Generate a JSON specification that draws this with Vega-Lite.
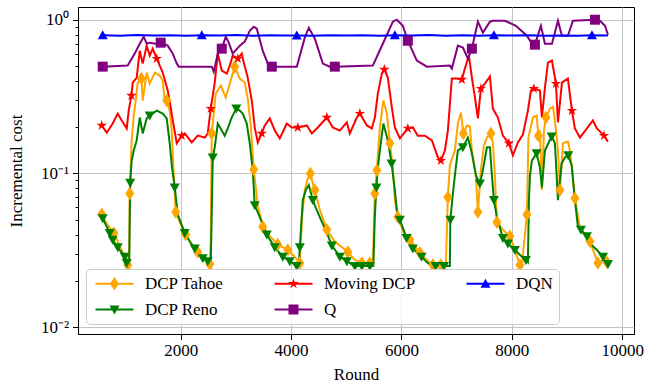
{
"$schema":"https://vega.github.io/schema/vega-lite/v6.json",
"width":556,"height":327,
"autosize":{"type":"none"},
"padding":{"left":78,"top":7,"right":26,"bottom":51},
"background":"white",
"config":{"view":{"stroke":"black","strokeWidth":1},"font":"Liberation Serif"},
"data":{"values":[
{"s":"DCP Tahoe","x":568,"y":0.0542,"m":1},{"s":"DCP Tahoe","x":676,"y":0.046},{"s":"DCP Tahoe","x":785,"y":0.041,"m":1},{"s":"DCP Tahoe","x":858,"y":0.036},{"s":"DCP Tahoe","x":930,"y":0.0317},{"s":"DCP Tahoe","x":1003,"y":0.0282},{"s":"DCP Tahoe","x":1039,"y":0.0253,"m":1},{"s":"DCP Tahoe","x":1066,"y":0.0317},{"s":"DCP Tahoe","x":1075,"y":0.074,"m":1},{"s":"DCP Tahoe","x":1111,"y":0.164},{"s":"DCP Tahoe","x":1148,"y":0.238},{"s":"DCP Tahoe","x":1184,"y":0.298},{"s":"DCP Tahoe","x":1220,"y":0.39},{"s":"DCP Tahoe","x":1287,"y":0.414,"m":1},{"s":"DCP Tahoe","x":1311,"y":0.298},{"s":"DCP Tahoe","x":1383,"y":0.453},{"s":"DCP Tahoe","x":1438,"y":0.384},{"s":"DCP Tahoe","x":1529,"y":0.453},{"s":"DCP Tahoe","x":1619,"y":0.433},{"s":"DCP Tahoe","x":1674,"y":0.402},{"s":"DCP Tahoe","x":1710,"y":0.298},{"s":"DCP Tahoe","x":1746,"y":0.298,"m":1},{"s":"DCP Tahoe","x":1800,"y":0.256},{"s":"DCP Tahoe","x":1837,"y":0.19},{"s":"DCP Tahoe","x":1873,"y":0.097},{"s":"DCP Tahoe","x":1909,"y":0.056,"m":1},{"s":"DCP Tahoe","x":1982,"y":0.048},{"s":"DCP Tahoe","x":2090,"y":0.04,"m":1},{"s":"DCP Tahoe","x":2199,"y":0.0345},{"s":"DCP Tahoe","x":2308,"y":0.0308,"m":1},{"s":"DCP Tahoe","x":2417,"y":0.0282},{"s":"DCP Tahoe","x":2526,"y":0.0257,"m":1},{"s":"DCP Tahoe","x":2544,"y":0.037},{"s":"DCP Tahoe","x":2562,"y":0.182,"m":1},{"s":"DCP Tahoe","x":2634,"y":0.331},{"s":"DCP Tahoe","x":2725,"y":0.373},{"s":"DCP Tahoe","x":2816,"y":0.312},{"s":"DCP Tahoe","x":2906,"y":0.402},{"s":"DCP Tahoe","x":2979,"y":0.495,"m":1},{"s":"DCP Tahoe","x":3070,"y":0.414},{"s":"DCP Tahoe","x":3160,"y":0.39},{"s":"DCP Tahoe","x":3214,"y":0.307},{"s":"DCP Tahoe","x":3269,"y":0.205},{"s":"DCP Tahoe","x":3323,"y":0.106,"m":1},{"s":"DCP Tahoe","x":3396,"y":0.062},{"s":"DCP Tahoe","x":3486,"y":0.045,"m":1},{"s":"DCP Tahoe","x":3614,"y":0.039},{"s":"DCP Tahoe","x":3758,"y":0.0345,"m":1},{"s":"DCP Tahoe","x":3940,"y":0.0317,"m":1},{"s":"DCP Tahoe","x":4067,"y":0.0287},{"s":"DCP Tahoe","x":4158,"y":0.0261,"m":1},{"s":"DCP Tahoe","x":4194,"y":0.05},{"s":"DCP Tahoe","x":4248,"y":0.078},{"s":"DCP Tahoe","x":4303,"y":0.093},{"s":"DCP Tahoe","x":4348,"y":0.1,"m":1},{"s":"DCP Tahoe","x":4393,"y":0.086},{"s":"DCP Tahoe","x":4430,"y":0.078,"m":1},{"s":"DCP Tahoe","x":4520,"y":0.058},{"s":"DCP Tahoe","x":4647,"y":0.043,"m":1},{"s":"DCP Tahoe","x":4792,"y":0.036},{"s":"DCP Tahoe","x":5028,"y":0.0308,"m":1},{"s":"DCP Tahoe","x":5155,"y":0.0273},{"s":"DCP Tahoe","x":5282,"y":0.0261,"m":1},{"s":"DCP Tahoe","x":5427,"y":0.0261,"m":1},{"s":"DCP Tahoe","x":5481,"y":0.0257},{"s":"DCP Tahoe","x":5517,"y":0.074,"m":1},{"s":"DCP Tahoe","x":5554,"y":0.105,"m":1},{"s":"DCP Tahoe","x":5608,"y":0.199},{"s":"DCP Tahoe","x":5672,"y":0.298},{"s":"DCP Tahoe","x":5735,"y":0.245},{"s":"DCP Tahoe","x":5790,"y":0.157,"m":1},{"s":"DCP Tahoe","x":5844,"y":0.109},{"s":"DCP Tahoe","x":5880,"y":0.067},{"s":"DCP Tahoe","x":5934,"y":0.052,"m":1},{"s":"DCP Tahoe","x":6043,"y":0.041},{"s":"DCP Tahoe","x":6152,"y":0.037,"m":1},{"s":"DCP Tahoe","x":6334,"y":0.0304,"m":1},{"s":"DCP Tahoe","x":6460,"y":0.0273},{"s":"DCP Tahoe","x":6569,"y":0.0253,"m":1},{"s":"DCP Tahoe","x":6714,"y":0.0253,"m":1},{"s":"DCP Tahoe","x":6805,"y":0.0253},{"s":"DCP Tahoe","x":6841,"y":0.07,"m":1},{"s":"DCP Tahoe","x":6877,"y":0.113},{"s":"DCP Tahoe","x":6968,"y":0.141},{"s":"DCP Tahoe","x":7022,"y":0.211},{"s":"DCP Tahoe","x":7077,"y":0.249},{"s":"DCP Tahoe","x":7122,"y":0.182,"m":1},{"s":"DCP Tahoe","x":7186,"y":0.205},{"s":"DCP Tahoe","x":7240,"y":0.202},{"s":"DCP Tahoe","x":7276,"y":0.141},{"s":"DCP Tahoe","x":7349,"y":0.097},{"s":"DCP Tahoe","x":7385,"y":0.056,"m":1},{"s":"DCP Tahoe","x":7439,"y":0.105},{"s":"DCP Tahoe","x":7494,"y":0.152},{"s":"DCP Tahoe","x":7548,"y":0.171},{"s":"DCP Tahoe","x":7621,"y":0.182,"m":1},{"s":"DCP Tahoe","x":7657,"y":0.157},{"s":"DCP Tahoe","x":7693,"y":0.097},{"s":"DCP Tahoe","x":7729,"y":0.048,"m":1},{"s":"DCP Tahoe","x":7838,"y":0.043},{"s":"DCP Tahoe","x":7965,"y":0.039,"m":1},{"s":"DCP Tahoe","x":8056,"y":0.0317},{"s":"DCP Tahoe","x":8147,"y":0.0253,"m":1},{"s":"DCP Tahoe","x":8183,"y":0.0253},{"s":"DCP Tahoe","x":8273,"y":0.054,"m":1},{"s":"DCP Tahoe","x":8301,"y":0.171},{"s":"DCP Tahoe","x":8382,"y":0.231},{"s":"DCP Tahoe","x":8449,"y":0.238},{"s":"DCP Tahoe","x":8482,"y":0.176,"m":1},{"s":"DCP Tahoe","x":8509,"y":0.19},{"s":"DCP Tahoe","x":8545,"y":0.078},{"s":"DCP Tahoe","x":8582,"y":0.19},{"s":"DCP Tahoe","x":8618,"y":0.231,"m":1},{"s":"DCP Tahoe","x":8691,"y":0.264},{"s":"DCP Tahoe","x":8745,"y":0.272},{"s":"DCP Tahoe","x":8781,"y":0.221},{"s":"DCP Tahoe","x":8836,"y":0.141},{"s":"DCP Tahoe","x":8872,"y":0.078,"m":1},{"s":"DCP Tahoe","x":8926,"y":0.157},{"s":"DCP Tahoe","x":9016,"y":0.161},{"s":"DCP Tahoe","x":9053,"y":0.141},{"s":"DCP Tahoe","x":9089,"y":0.109},{"s":"DCP Tahoe","x":9143,"y":0.069,"m":1},{"s":"DCP Tahoe","x":9235,"y":0.044},{"s":"DCP Tahoe","x":9416,"y":0.036,"m":1},{"s":"DCP Tahoe","x":9560,"y":0.0261,"m":1},{"s":"DCP Tahoe","x":9652,"y":0.0273},{"s":"DCP Tahoe","x":9724,"y":0.0264,"m":1},
{"s":"DCP Reno","x":586,"y":0.051,"m":1},{"s":"DCP Reno","x":713,"y":0.041,"m":1},{"s":"DCP Reno","x":767,"y":0.037,"m":1},{"s":"DCP Reno","x":858,"y":0.033,"m":1},{"s":"DCP Reno","x":985,"y":0.0287,"m":1},{"s":"DCP Reno","x":1021,"y":0.0261,"m":1},{"s":"DCP Reno","x":1066,"y":0.025},{"s":"DCP Reno","x":1084,"y":0.087,"m":1},{"s":"DCP Reno","x":1111,"y":0.121},{"s":"DCP Reno","x":1148,"y":0.141},{"s":"DCP Reno","x":1202,"y":0.164},{"s":"DCP Reno","x":1257,"y":0.231},{"s":"DCP Reno","x":1311,"y":0.182},{"s":"DCP Reno","x":1383,"y":0.228},{"s":"DCP Reno","x":1438,"y":0.238,"m":1},{"s":"DCP Reno","x":1565,"y":0.256},{"s":"DCP Reno","x":1674,"y":0.245},{"s":"DCP Reno","x":1746,"y":0.228},{"s":"DCP Reno","x":1800,"y":0.157},{"s":"DCP Reno","x":1837,"y":0.113},{"s":"DCP Reno","x":1891,"y":0.081,"m":1},{"s":"DCP Reno","x":1946,"y":0.054},{"s":"DCP Reno","x":2072,"y":0.041,"m":1},{"s":"DCP Reno","x":2163,"y":0.036},{"s":"DCP Reno","x":2254,"y":0.0325,"m":1},{"s":"DCP Reno","x":2344,"y":0.03},{"s":"DCP Reno","x":2399,"y":0.028,"m":1},{"s":"DCP Reno","x":2489,"y":0.0268,"m":1},{"s":"DCP Reno","x":2544,"y":0.025},{"s":"DCP Reno","x":2580,"y":0.127,"m":1},{"s":"DCP Reno","x":2616,"y":0.148},{"s":"DCP Reno","x":2671,"y":0.211},{"s":"DCP Reno","x":2743,"y":0.19},{"s":"DCP Reno","x":2797,"y":0.176},{"s":"DCP Reno","x":2852,"y":0.196},{"s":"DCP Reno","x":2924,"y":0.231},{"s":"DCP Reno","x":3008,"y":0.264,"m":1},{"s":"DCP Reno","x":3070,"y":0.256},{"s":"DCP Reno","x":3124,"y":0.245},{"s":"DCP Reno","x":3196,"y":0.211},{"s":"DCP Reno","x":3251,"y":0.157},{"s":"DCP Reno","x":3305,"y":0.105},{"s":"DCP Reno","x":3341,"y":0.062,"m":1},{"s":"DCP Reno","x":3432,"y":0.052},{"s":"DCP Reno","x":3559,"y":0.04,"m":1},{"s":"DCP Reno","x":3704,"y":0.033,"m":1},{"s":"DCP Reno","x":3849,"y":0.0287,"m":1},{"s":"DCP Reno","x":3976,"y":0.0268,"m":1},{"s":"DCP Reno","x":4103,"y":0.025,"m":1},{"s":"DCP Reno","x":4139,"y":0.025},{"s":"DCP Reno","x":4158,"y":0.033,"m":1},{"s":"DCP Reno","x":4212,"y":0.067},{"s":"DCP Reno","x":4266,"y":0.078},{"s":"DCP Reno","x":4321,"y":0.084},{"s":"DCP Reno","x":4393,"y":0.067,"m":1},{"s":"DCP Reno","x":4430,"y":0.062},{"s":"DCP Reno","x":4520,"y":0.052},{"s":"DCP Reno","x":4647,"y":0.041},{"s":"DCP Reno","x":4738,"y":0.034,"m":1},{"s":"DCP Reno","x":4883,"y":0.0287,"m":1},{"s":"DCP Reno","x":5010,"y":0.0268,"m":1},{"s":"DCP Reno","x":5119,"y":0.0253},{"s":"DCP Reno","x":5155,"y":0.025,"m":1},{"s":"DCP Reno","x":5282,"y":0.025,"m":1},{"s":"DCP Reno","x":5427,"y":0.025,"m":1},{"s":"DCP Reno","x":5490,"y":0.025},{"s":"DCP Reno","x":5517,"y":0.052},{"s":"DCP Reno","x":5545,"y":0.081,"m":1},{"s":"DCP Reno","x":5572,"y":0.109},{"s":"DCP Reno","x":5608,"y":0.141},{"s":"DCP Reno","x":5672,"y":0.211},{"s":"DCP Reno","x":5753,"y":0.164},{"s":"DCP Reno","x":5820,"y":0.116,"m":1},{"s":"DCP Reno","x":5880,"y":0.078},{"s":"DCP Reno","x":5916,"y":0.058},{"s":"DCP Reno","x":5971,"y":0.05,"m":1},{"s":"DCP Reno","x":6092,"y":0.038,"m":1},{"s":"DCP Reno","x":6206,"y":0.0325,"m":1},{"s":"DCP Reno","x":6364,"y":0.0287,"m":1},{"s":"DCP Reno","x":6460,"y":0.0264},{"s":"DCP Reno","x":6551,"y":0.025},{"s":"DCP Reno","x":6620,"y":0.025,"m":1},{"s":"DCP Reno","x":6770,"y":0.025,"m":1},{"s":"DCP Reno","x":6877,"y":0.025},{"s":"DCP Reno","x":6886,"y":0.05,"m":1},{"s":"DCP Reno","x":6932,"y":0.074},{"s":"DCP Reno","x":6968,"y":0.097},{"s":"DCP Reno","x":7022,"y":0.141},{"s":"DCP Reno","x":7113,"y":0.148,"m":1},{"s":"DCP Reno","x":7204,"y":0.171},{"s":"DCP Reno","x":7276,"y":0.135},{"s":"DCP Reno","x":7349,"y":0.097},{"s":"DCP Reno","x":7421,"y":0.086,"m":1},{"s":"DCP Reno","x":7476,"y":0.105},{"s":"DCP Reno","x":7548,"y":0.148},{"s":"DCP Reno","x":7603,"y":0.148},{"s":"DCP Reno","x":7639,"y":0.097},{"s":"DCP Reno","x":7675,"y":0.067,"m":1},{"s":"DCP Reno","x":7729,"y":0.052},{"s":"DCP Reno","x":7838,"y":0.038,"m":1},{"s":"DCP Reno","x":7929,"y":0.035,"m":1},{"s":"DCP Reno","x":8056,"y":0.0317,"m":1},{"s":"DCP Reno","x":8183,"y":0.0287},{"s":"DCP Reno","x":8255,"y":0.0273,"m":1},{"s":"DCP Reno","x":8291,"y":0.0264},{"s":"DCP Reno","x":8310,"y":0.067},{"s":"DCP Reno","x":8328,"y":0.097},{"s":"DCP Reno","x":8364,"y":0.121},{"s":"DCP Reno","x":8449,"y":0.135,"m":1},{"s":"DCP Reno","x":8509,"y":0.109},{"s":"DCP Reno","x":8545,"y":0.081},{"s":"DCP Reno","x":8600,"y":0.141},{"s":"DCP Reno","x":8721,"y":0.174,"m":1},{"s":"DCP Reno","x":8781,"y":0.157},{"s":"DCP Reno","x":8836,"y":0.067},{"s":"DCP Reno","x":8902,"y":0.116},{"s":"DCP Reno","x":8962,"y":0.127},{"s":"DCP Reno","x":9022,"y":0.131,"m":1},{"s":"DCP Reno","x":9084,"y":0.113},{"s":"DCP Reno","x":9143,"y":0.067},{"s":"DCP Reno","x":9198,"y":0.045},{"s":"DCP Reno","x":9252,"y":0.043,"m":1},{"s":"DCP Reno","x":9361,"y":0.039,"m":1},{"s":"DCP Reno","x":9416,"y":0.035},{"s":"DCP Reno","x":9542,"y":0.0317},{"s":"DCP Reno","x":9652,"y":0.0287,"m":1},{"s":"DCP Reno","x":9706,"y":0.0264},{"s":"DCP Reno","x":9742,"y":0.0257,"m":1},
{"s":"Moving DCP","x":568,"y":0.205,"m":1},{"s":"Moving DCP","x":659,"y":0.184},{"s":"Moving DCP","x":767,"y":0.211},{"s":"Moving DCP","x":858,"y":0.245},{"s":"Moving DCP","x":930,"y":0.221},{"s":"Moving DCP","x":1021,"y":0.196},{"s":"Moving DCP","x":1057,"y":0.256},{"s":"Moving DCP","x":1106,"y":0.321,"m":1},{"s":"Moving DCP","x":1130,"y":0.39},{"s":"Moving DCP","x":1202,"y":0.42},{"s":"Moving DCP","x":1257,"y":0.629},{"s":"Moving DCP","x":1311,"y":0.518},{"s":"Moving DCP","x":1383,"y":0.678},{"s":"Moving DCP","x":1438,"y":0.584},{"s":"Moving DCP","x":1492,"y":0.648},{"s":"Moving DCP","x":1565,"y":0.558,"m":1},{"s":"Moving DCP","x":1674,"y":0.453},{"s":"Moving DCP","x":1764,"y":0.346},{"s":"Moving DCP","x":1819,"y":0.268},{"s":"Moving DCP","x":1855,"y":0.221},{"s":"Moving DCP","x":1928,"y":0.157},{"s":"Moving DCP","x":2018,"y":0.176,"m":1},{"s":"Moving DCP","x":2072,"y":0.182},{"s":"Moving DCP","x":2199,"y":0.159},{"s":"Moving DCP","x":2308,"y":0.176},{"s":"Moving DCP","x":2435,"y":0.171},{"s":"Moving DCP","x":2489,"y":0.182},{"s":"Moving DCP","x":2544,"y":0.264,"m":1},{"s":"Moving DCP","x":2616,"y":0.39},{"s":"Moving DCP","x":2671,"y":0.602},{"s":"Moving DCP","x":2743,"y":0.467},{"s":"Moving DCP","x":2834,"y":0.446},{"s":"Moving DCP","x":2888,"y":0.503},{"s":"Moving DCP","x":2942,"y":0.584},{"s":"Moving DCP","x":3033,"y":0.558,"m":1},{"s":"Moving DCP","x":3106,"y":0.602},{"s":"Moving DCP","x":3142,"y":0.526},{"s":"Moving DCP","x":3214,"y":0.42},{"s":"Moving DCP","x":3287,"y":0.298},{"s":"Moving DCP","x":3341,"y":0.199},{"s":"Moving DCP","x":3396,"y":0.159},{"s":"Moving DCP","x":3468,"y":0.182,"m":1},{"s":"Moving DCP","x":3523,"y":0.205},{"s":"Moving DCP","x":3614,"y":0.228},{"s":"Moving DCP","x":3704,"y":0.19},{"s":"Moving DCP","x":3795,"y":0.169},{"s":"Moving DCP","x":3921,"y":0.211},{"s":"Moving DCP","x":4012,"y":0.199},{"s":"Moving DCP","x":4121,"y":0.199,"m":1},{"s":"Moving DCP","x":4285,"y":0.205},{"s":"Moving DCP","x":4375,"y":0.182},{"s":"Moving DCP","x":4484,"y":0.199},{"s":"Moving DCP","x":4647,"y":0.231,"m":1},{"s":"Moving DCP","x":4756,"y":0.199},{"s":"Moving DCP","x":4883,"y":0.19},{"s":"Moving DCP","x":5010,"y":0.215},{"s":"Moving DCP","x":5064,"y":0.182},{"s":"Moving DCP","x":5191,"y":0.231},{"s":"Moving DCP","x":5246,"y":0.245,"m":1},{"s":"Moving DCP","x":5373,"y":0.205},{"s":"Moving DCP","x":5463,"y":0.196},{"s":"Moving DCP","x":5517,"y":0.231},{"s":"Moving DCP","x":5572,"y":0.331},{"s":"Moving DCP","x":5644,"y":0.446},{"s":"Moving DCP","x":5690,"y":0.474,"m":1},{"s":"Moving DCP","x":5753,"y":0.42},{"s":"Moving DCP","x":5826,"y":0.268},{"s":"Moving DCP","x":5880,"y":0.199},{"s":"Moving DCP","x":5971,"y":0.169},{"s":"Moving DCP","x":6115,"y":0.196,"m":1},{"s":"Moving DCP","x":6206,"y":0.199},{"s":"Moving DCP","x":6297,"y":0.176},{"s":"Moving DCP","x":6424,"y":0.176},{"s":"Moving DCP","x":6551,"y":0.164},{"s":"Moving DCP","x":6660,"y":0.127},{"s":"Moving DCP","x":6714,"y":0.121,"m":1},{"s":"Moving DCP","x":6787,"y":0.141},{"s":"Moving DCP","x":6841,"y":0.19},{"s":"Moving DCP","x":6913,"y":0.414},{"s":"Moving DCP","x":7004,"y":0.414},{"s":"Moving DCP","x":7095,"y":0.408,"m":1},{"s":"Moving DCP","x":7149,"y":0.481},{"s":"Moving DCP","x":7222,"y":0.584},{"s":"Moving DCP","x":7276,"y":0.42},{"s":"Moving DCP","x":7331,"y":0.312},{"s":"Moving DCP","x":7385,"y":0.228},{"s":"Moving DCP","x":7439,"y":0.356,"m":1},{"s":"Moving DCP","x":7512,"y":0.384},{"s":"Moving DCP","x":7603,"y":0.427},{"s":"Moving DCP","x":7657,"y":0.264},{"s":"Moving DCP","x":7747,"y":0.231},{"s":"Moving DCP","x":7838,"y":0.176},{"s":"Moving DCP","x":7947,"y":0.157,"m":1},{"s":"Moving DCP","x":8019,"y":0.131},{"s":"Moving DCP","x":8110,"y":0.159},{"s":"Moving DCP","x":8201,"y":0.179},{"s":"Moving DCP","x":8291,"y":0.256},{"s":"Moving DCP","x":8346,"y":0.346},{"s":"Moving DCP","x":8400,"y":0.356,"m":1},{"s":"Moving DCP","x":8509,"y":0.346},{"s":"Moving DCP","x":8545,"y":0.231},{"s":"Moving DCP","x":8600,"y":0.362},{"s":"Moving DCP","x":8654,"y":0.526},{"s":"Moving DCP","x":8727,"y":0.542},{"s":"Moving DCP","x":8799,"y":0.384,"m":1},{"s":"Moving DCP","x":8836,"y":0.215},{"s":"Moving DCP","x":8908,"y":0.39},{"s":"Moving DCP","x":9016,"y":0.414},{"s":"Moving DCP","x":9089,"y":0.256,"m":1},{"s":"Moving DCP","x":9143,"y":0.196},{"s":"Moving DCP","x":9235,"y":0.171},{"s":"Moving DCP","x":9361,"y":0.196},{"s":"Moving DCP","x":9470,"y":0.221},{"s":"Moving DCP","x":9542,"y":0.196},{"s":"Moving DCP","x":9670,"y":0.176,"m":1},{"s":"Moving DCP","x":9742,"y":0.161},
{"s":"Q","x":586,"y":0.495,"m":1},{"s":"Q","x":1039,"y":0.503},{"s":"Q","x":1166,"y":0.602},{"s":"Q","x":1257,"y":0.698},{"s":"Q","x":1329,"y":0.776},{"s":"Q","x":1383,"y":0.698},{"s":"Q","x":1438,"y":0.709},{"s":"Q","x":1547,"y":0.698},{"s":"Q","x":1637,"y":0.709,"m":1},{"s":"Q","x":1764,"y":0.678},{"s":"Q","x":1855,"y":0.602},{"s":"Q","x":1928,"y":0.518},{"s":"Q","x":1964,"y":0.495},{"s":"Q","x":2562,"y":0.495},{"s":"Q","x":2598,"y":0.459},{"s":"Q","x":2671,"y":0.602},{"s":"Q","x":2743,"y":0.648,"m":1},{"s":"Q","x":2816,"y":0.776},{"s":"Q","x":2870,"y":0.709},{"s":"Q","x":2942,"y":0.602},{"s":"Q","x":3070,"y":0.678},{"s":"Q","x":3160,"y":0.72},{"s":"Q","x":3251,"y":0.848},{"s":"Q","x":3323,"y":0.901},{"s":"Q","x":3378,"y":0.874},{"s":"Q","x":3486,"y":0.629},{"s":"Q","x":3577,"y":0.518},{"s":"Q","x":3650,"y":0.495,"m":1},{"s":"Q","x":4103,"y":0.495},{"s":"Q","x":4248,"y":0.764},{"s":"Q","x":4321,"y":0.887},{"s":"Q","x":4430,"y":0.753},{"s":"Q","x":4575,"y":0.518},{"s":"Q","x":4702,"y":0.495},{"s":"Q","x":4792,"y":0.495,"m":1},{"s":"Q","x":5481,"y":0.503},{"s":"Q","x":5662,"y":0.698},{"s":"Q","x":5844,"y":0.971},{"s":"Q","x":5916,"y":1.0},{"s":"Q","x":6025,"y":0.914},{"s":"Q","x":6115,"y":0.73,"m":1},{"s":"Q","x":6279,"y":0.542},{"s":"Q","x":6460,"y":0.495},{"s":"Q","x":6877,"y":0.503},{"s":"Q","x":6913,"y":0.481},{"s":"Q","x":7022,"y":0.678},{"s":"Q","x":7113,"y":0.658},{"s":"Q","x":7204,"y":0.558},{"s":"Q","x":7276,"y":0.648,"m":1},{"s":"Q","x":7385,"y":0.971},{"s":"Q","x":7476,"y":0.823},{"s":"Q","x":7603,"y":0.971},{"s":"Q","x":7657,"y":0.985},{"s":"Q","x":7874,"y":0.985},{"s":"Q","x":8074,"y":0.914},{"s":"Q","x":8273,"y":0.787},{"s":"Q","x":8364,"y":0.698},{"s":"Q","x":8418,"y":0.688,"m":1},{"s":"Q","x":8527,"y":0.914},{"s":"Q","x":8600,"y":0.698},{"s":"Q","x":8727,"y":0.698},{"s":"Q","x":8836,"y":0.985},{"s":"Q","x":8908,"y":0.787},{"s":"Q","x":9016,"y":0.787},{"s":"Q","x":9107,"y":0.985},{"s":"Q","x":9506,"y":1.0,"m":1},{"s":"Q","x":9597,"y":0.985},{"s":"Q","x":9688,"y":0.914},{"s":"Q","x":9742,"y":0.799},
{"s":"DQN","x":586,"y":0.792,"m":1},{"s":"DQN","x":900,"y":0.787},{"s":"DQN","x":1200,"y":0.795},{"s":"DQN","x":1500,"y":0.789},{"s":"DQN","x":1800,"y":0.793},{"s":"DQN","x":2100,"y":0.786},{"s":"DQN","x":2381,"y":0.791,"m":1},{"s":"DQN","x":2700,"y":0.788},{"s":"DQN","x":3000,"y":0.794},{"s":"DQN","x":3300,"y":0.786},{"s":"DQN","x":3600,"y":0.791},{"s":"DQN","x":3900,"y":0.788},{"s":"DQN","x":4103,"y":0.79,"m":1},{"s":"DQN","x":4400,"y":0.786},{"s":"DQN","x":4700,"y":0.793},{"s":"DQN","x":5000,"y":0.788},{"s":"DQN","x":5300,"y":0.791},{"s":"DQN","x":5600,"y":0.786},{"s":"DQN","x":5880,"y":0.792,"m":1},{"s":"DQN","x":6200,"y":0.788},{"s":"DQN","x":6500,"y":0.794},{"s":"DQN","x":6800,"y":0.787},{"s":"DQN","x":7100,"y":0.791},{"s":"DQN","x":7400,"y":0.786},{"s":"DQN","x":7675,"y":0.791,"m":1},{"s":"DQN","x":8000,"y":0.788},{"s":"DQN","x":8300,"y":0.793},{"s":"DQN","x":8600,"y":0.786},{"s":"DQN","x":8900,"y":0.79},{"s":"DQN","x":9200,"y":0.787},{"s":"DQN","x":9452,"y":0.791,"m":1},{"s":"DQN","x":9742,"y":0.789}
]},
"encoding":{
"x":{"field":"x","type":"quantitative","scale":{"domain":[138,10214],"nice":false,"zero":false},
"axis":{"values":[2000,4000,6000,8000,10000],"format":"d","title":"Round","labelFont":"Liberation Serif","labelFontSize":17,"labelColor":"black","labelPadding":3,"tickSize":5.5,"tickColor":"black","domainColor":"black","grid":true,"gridColor":"#c4c4c4","titleFont":"Liberation Serif","titleFontSize":17,"titleFontWeight":"normal","titleColor":"black","titlePadding":8}},
"y":{"field":"y","type":"quantitative","scale":{"type":"log","domain":[0.00901,1.21],"nice":false,"zero":false},
"axis":{"values":[0.01,0.02,0.03,0.04,0.05,0.06,0.07,0.08,0.09,0.1,0.2,0.3,0.4,0.5,0.6,0.7,0.8,0.9,1],
"labelExpr":"datum.value == 1 ? '10⁰' : (datum.value == 0.1 ? '10⁻¹' : (datum.value == 0.01 ? '10⁻²' : ''))",
"title":"Incremental cost","labelFont":"Liberation Serif","labelFontSize":17,"labelColor":"black","labelPadding":4,
"tickSize":{"condition":{"test":"datum.value == 1 || datum.value == 0.1 || datum.value == 0.01","value":5.5},"value":3},
"tickColor":"black","domainColor":"black","grid":true,"gridColor":"#c4c4c4",
"gridOpacity":{"condition":{"test":"datum.value == 1 || datum.value == 0.1 || datum.value == 0.01","value":1},"value":0},
"titleFont":"Liberation Serif","titleFontSize":17,"titleFontWeight":"normal","titleColor":"black","titlePadding":15}}
},
"layer":[
{"mark":{"type":"line","strokeWidth":2,"clip":true},
"encoding":{"color":{"field":"s","type":"nominal","legend":null,"scale":{"domain":["DCP Tahoe","DCP Reno","Moving DCP","Q","DQN"],"range":["#ffa500","#008000","#ff0000","#800080","#0000ff"]}},"detail":{"field":"s"}}},
{"transform":[{"filter":"datum.m == 1"}],
"mark":{"type":"point","filled":true,"opacity":1,"size":100,"strokeWidth":0},
"encoding":{"color":{"field":"s","type":"nominal","legend":null,"scale":{"domain":["DCP Tahoe","DCP Reno","Moving DCP","Q","DQN"],"range":["#ffa500","#008000","#ff0000","#800080","#0000ff"]}},
"shape":{"field":"s","type":"nominal","legend":null,"scale":{"domain":["DCP Tahoe","DCP Reno","Moving DCP","Q","DQN"],"range":["M0,-1.35L0.9,0L0,1.35L-0.9,0Z","M-1,-0.8L1,-0.8L0,1Z","M0,-1.1L0.25,-0.34L1.05,-0.34L0.4,0.13L0.65,0.89L0,0.42L-0.65,0.89L-0.4,0.13L-1.05,-0.34L-0.25,-0.34Z","M-1,-1L1,-1L1,1L-1,1Z","M0,-1L1,0.8L-1,0.8Z"]}}}},
{"data":{"values":[{"s":"DCP Tahoe","x":5000,"y":0.001},{"s":"DCP Reno","x":5000,"y":0.001},{"s":"Moving DCP","x":5000,"y":0.001},{"s":"Q","x":5000,"y":0.001},{"s":"DQN","x":5000,"y":0.001}]},
"mark":{"type":"point","filled":true,"opacity":1,"size":100,"clip":true,"strokeWidth":0},
"encoding":{"color":{"field":"s","type":"nominal","scale":{"domain":["DCP Tahoe","DCP Reno","Moving DCP","Q","DQN"],"range":["#ffa500","#008000","#ff0000","#800080","#0000ff"]},
"legend":{"title":null,"orient":"none","legendX":8,"legendY":262,"columns":3,"columnPadding":47,"rowPadding":8,"padding":6,"symbolOffset":14,"labelOffset":22,"symbolSize":100,"symbolStrokeWidth":0,"symbolOpacity":1,"labelFont":"Liberation Serif","labelFontSize":17,"labelColor":"black","fillColor":"rgba(255,255,255,0.8)","strokeColor":"#cccccc","cornerRadius":4}},
"shape":{"field":"s","type":"nominal","scale":{"domain":["DCP Tahoe","DCP Reno","Moving DCP","Q","DQN"],"range":["M-3.8,-0.2L3.8,-0.2L3.8,0.2L-3.8,0.2ZM0,-1.35L0.9,0L0,1.35L-0.9,0Z","M-3.8,-0.2L3.8,-0.2L3.8,0.2L-3.8,0.2ZM-1,-0.8L1,-0.8L0,1Z","M-3.8,-0.2L3.8,-0.2L3.8,0.2L-3.8,0.2ZM0,-1.1L0.25,-0.34L1.05,-0.34L0.4,0.13L0.65,0.89L0,0.42L-0.65,0.89L-0.4,0.13L-1.05,-0.34L-0.25,-0.34Z","M-3.8,-0.2L3.8,-0.2L3.8,0.2L-3.8,0.2ZM-1,-1L1,-1L1,1L-1,1Z","M-3.8,-0.2L3.8,-0.2L3.8,0.2L-3.8,0.2ZM0,-1L1,0.8L-1,0.8Z"]},
"legend":{"title":null,"orient":"none","legendX":8,"legendY":262,"columns":3,"columnPadding":47,"rowPadding":8,"padding":6,"symbolOffset":14,"labelOffset":22,"symbolSize":100,"symbolStrokeWidth":0,"symbolOpacity":1,"labelFont":"Liberation Serif","labelFontSize":17,"labelColor":"black","fillColor":"rgba(255,255,255,0.8)","strokeColor":"#cccccc","cornerRadius":4}}}}
],
"resolve":{"scale":{"color":"independent","shape":"independent"}}
}
